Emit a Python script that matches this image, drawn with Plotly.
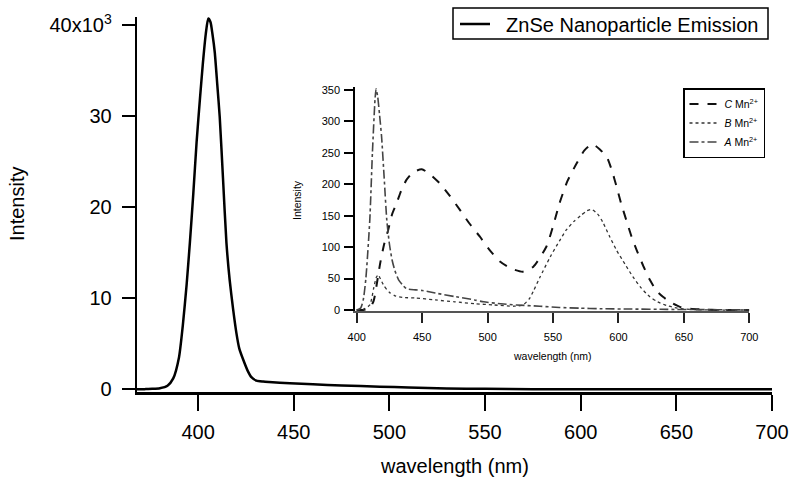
import plotly.graph_objects as go

# ---- main spectrum (ZnSe nanoparticle emission), intensity in counts
main_wl = [368, 372, 376, 380, 384, 387, 390, 392, 394, 395.7, 397.5, 399.2, 401, 402.5, 404, 405.3,
           406.5, 407.5, 408.7, 410, 411.3, 413, 414.8, 416.5, 418.3, 420, 421.5, 423.5, 426, 428,
           430.5, 434, 437, 448, 460, 475, 495, 510, 530, 550, 575, 600, 650, 700]
main_int = [0, 20, 50, 120, 400, 1200, 3500, 7000, 11500, 16100, 21500, 27100, 32000, 35800, 39000, 40700,
            40300, 39000, 37000, 33500, 29900, 23200, 16100, 12000, 8800, 6200, 4500, 3300, 2000, 1300,
            950, 850, 800, 660, 550, 420, 290, 200, 100, 50, 20, 10, 0, 0]

# ---- inset spectra
c_wl = [400, 405, 410, 413, 415, 418, 421, 424, 427, 430.5, 434, 438, 443, 449.7, 456, 463.7, 471, 479,
        486, 494, 501, 509.5, 518, 527, 535, 545, 550, 555, 561, 568, 574, 580, 586, 591, 595, 598.6,
        602, 606, 610, 614, 619, 624, 629, 634, 640, 647, 655, 662, 680, 700]
c_int = [0, 0, 3, 15, 37, 75, 105, 127, 152, 170, 190, 207, 219, 224, 216, 201, 182, 159,
         138, 117, 97, 77, 66, 61, 69, 101, 133, 170, 205, 233, 254, 264, 255, 244, 222, 196,
         170, 143, 117, 95, 70, 48, 31, 21, 12, 5, 2, 1, 0, 0]

b_wl = [400, 405, 410, 413, 415, 416.5, 418, 421, 425, 430, 435, 445, 460, 475, 490, 505, 520, 527,
        532, 535, 540, 548, 555, 560, 566, 571, 576, 579.5, 584, 588, 593, 598.6, 605, 611, 617, 624,
        630, 637, 645, 655, 670, 700]
b_int = [0, 1, 8, 35, 52, 56, 50, 38, 28, 22, 20, 19, 16, 13, 10, 8, 6, 8,
         18, 30, 52, 85, 110, 127, 141, 150, 158, 160, 153, 140, 118, 95, 73, 53, 36, 21,
         13, 7, 3, 1, 0, 0]

a_wl = [400, 403, 405, 407, 410, 412, 414, 414.8, 416, 417.5, 419, 421, 423, 425, 427, 429, 432, 435,
        438, 445, 450, 460, 476, 490, 497, 510, 522, 540, 555, 570, 586, 610, 637, 670, 700]
a_int = [0, 3, 16, 50, 143, 250, 335, 352, 340, 310, 276, 210, 143, 105, 80, 64, 48, 40,
         34, 32, 31, 27, 21, 16, 13, 10, 8, 6, 4, 3, 2, 1.5, 1, 0.5, 0]

main_xticks = [400, 450, 500, 550, 600, 650, 700]
main_yticks = [0, 10000, 20000, 30000, 40000]
main_ytext = ["0", "10", "20", "30", "40x10<sup>3</sup>"]
inset_xticks = [400, 450, 500, 550, 600, 650, 700]
inset_yticks = [0, 50, 100, 150, 200, 250, 300, 350]

FONT = "Liberation Sans, Arial, sans-serif"
W, H = 793, 477


def fx(x):
    return x / W


def fy(y):
    return 1 - y / H


fig = go.Figure()
fig.add_trace(go.Scatter(x=main_wl, y=main_int, mode="lines", name="  ZnSe Nanoparticle Emission",
                         line=dict(color="black", width=2.5, shape="spline", smoothing=0.6),
                         legend="legend"))
fig.add_trace(go.Scatter(x=c_wl, y=c_int, mode="lines", name="<i>C</i> Mn<sup>2+</sup>",
                         line=dict(color="#111", width=2, dash="dash", shape="spline", smoothing=0.6),
                         xaxis="x2", yaxis="y2", legend="legend2"))
fig.add_trace(go.Scatter(x=b_wl, y=b_int, mode="lines", name="<i>B</i> Mn<sup>2+</sup>",
                         line=dict(color="#333", width=1.3, dash="dot", shape="spline", smoothing=0.6),
                         xaxis="x2", yaxis="y2", legend="legend2"))
fig.add_trace(go.Scatter(x=a_wl, y=a_int, mode="lines", name="<i>A</i> Mn<sup>2+</sup>",
                         line=dict(color="#444", width=1.6, dash="dashdot", shape="spline", smoothing=0.6),
                         xaxis="x2", yaxis="y2", legend="legend2"))

fig.update_layout(
    width=W, height=H,
    margin=dict(l=0, r=0, t=0, b=0, pad=0),
    paper_bgcolor="white", plot_bgcolor="rgba(0,0,0,0)",
    font=dict(family=FONT, color="black", size=20),
    xaxis=dict(domain=[fx(136.7), fx(772)], range=[367.9, 700], tickvals=main_xticks, ticks="outside",
               ticklen=16, tickwidth=2, tickcolor="black", showline=True, linecolor="black", linewidth=3,
               showgrid=False, zeroline=False, tickfont=dict(size=20), ticklabelstandoff=4,
               automargin=False),
    yaxis=dict(domain=[fy(391.5), fy(17)], range=[-240, 40870], tickvals=main_yticks, ticktext=main_ytext,
               ticks="outside", ticklen=13, tickwidth=2, tickcolor="black", showline=True,
               linecolor="black", linewidth=2, showgrid=False, zeroline=False, tickfont=dict(size=20),
               ticklabelstandoff=6, automargin=False),
    xaxis2=dict(domain=[fx(355), fx(749.3)], anchor="y2", range=[398.7, 700], tickvals=inset_xticks,
                ticks="outside", ticklen=10, tickwidth=1.5, tickcolor="#222", showline=True,
                linecolor="#555", linewidth=1.5, showgrid=False, zeroline=False,
                tickfont=dict(size=11), ticklabelstandoff=5, automargin=False),
    yaxis2=dict(domain=[fy(311), fy(86.7)], anchor="x2", range=[-1.6, 355.3], tickvals=inset_yticks,
                ticks="outside", ticklen=9, tickwidth=1.5, tickcolor="black", showline=True,
                linecolor="black", linewidth=1.5, showgrid=False, zeroline=False,
                tickfont=dict(size=11), ticklabelstandoff=2, automargin=False),
    legend=dict(x=fx(455), y=fy(24), xanchor="left", yanchor="middle", bgcolor="rgba(0,0,0,0)",
                borderwidth=0, font=dict(size=20), itemwidth=30),
    legend2=dict(x=fx(683), y=fy(88), xanchor="left", yanchor="top", bgcolor="white",
                 bordercolor="black", borderwidth=1.5, font=dict(size=10.5), itemwidth=30,
                 tracegroupgap=0),
    showlegend=True,
    shapes=[dict(type="rect", xref="paper", yref="paper", x0=fx(453), x1=fx(768), y0=fy(39), y1=fy(8),
                 line=dict(color="black", width=1.5), fillcolor="rgba(0,0,0,0)", layer="above")],
)

for text, x, y, ang, size in [
    ("wavelength (nm)", 454, 466, 0, 20),
    ("Intensity", 17, 204, -90, 20),
    ("wavelength (nm)", 552, 356, 0, 10.5),
    ("Intensity", 297, 200, -90, 10.5),
]:
    fig.add_annotation(text=text, x=fx(x), y=fy(y), xref="paper", yref="paper", xanchor="center",
                       yanchor="middle", showarrow=False, textangle=ang, font=dict(size=size))

fig.write_html("out.html", post_script="document.body.style.margin='0';",
               config={"displayModeBar": False})
